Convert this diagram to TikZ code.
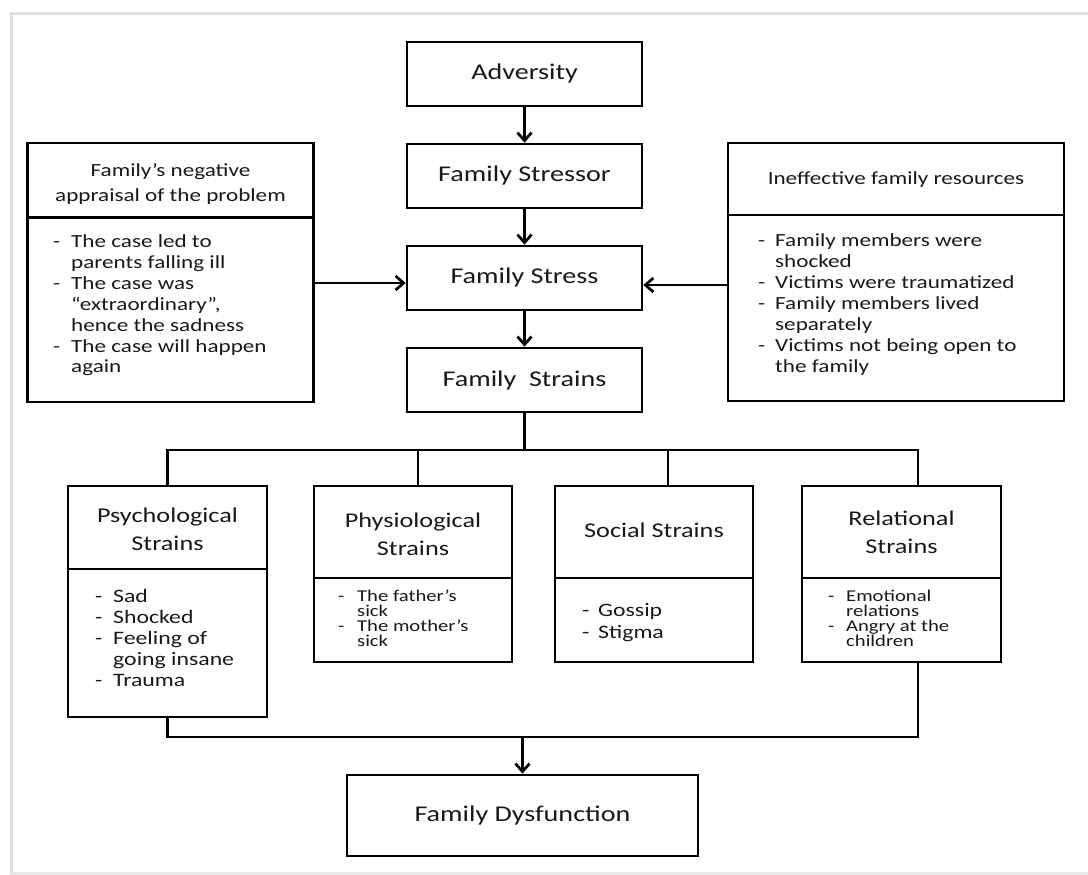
\documentclass[tikz,border=0pt]{standalone}
\usepackage{fontspec}
\setmainfont{Carlito}[FakeStretch=1.25]
\usetikzlibrary{arrows.meta}
\definecolor{txt}{RGB}{25,25,25}
\definecolor{framegray}{RGB}{222,222,222}
\newcommand{\ditem}[2]{\hbox{\makebox[#1][l]{-}#2}}
\newcommand{\dcont}[2]{\hbox{\hspace*{#1}#2}}
\newcommand{\setlf}[2]{\fontsize{#1}{#2}\selectfont\lineskiplimit=-100pt\relax}
\begin{document}
\begin{tikzpicture}[x=1pt,y=-1pt,
  box/.style={draw=black, line width=2.7pt, rectangle, inner sep=0pt},
  mainbox/.style={box, minimum width=235pt, minimum height=64pt, text=txt,
    font=\fontsize{22.5}{27}\selectfont},
  hdr/.style={align=center, text=txt, inner sep=0pt},
  lst/.style={anchor=base west, text=txt, inner sep=0pt},
  conn/.style={line width=2.7pt, draw=black},
  arr/.style={conn, -{Straight Barb[length=8pt,width=14pt]}}]
\useasboundingbox (0,0) rectangle (1088,875);
\fill[white] (0,0) rectangle (1088,875);
% frame
\draw[framegray, line width=3pt] (1088,14) -- (11,14) -- (11,875);
\draw[framegray!70, line width=3pt] (11,873) -- (1088,873);

% main chain
\node[mainbox] (adv) at (524.5,74) {Adversity};
\node[mainbox] (stressor) at (524.5,176) {Family Stressor};
\node[mainbox] (stress) at (524.5,278) {Family Stress};
\node[mainbox] (strains) at (524.5,380) {Family\ \ Strains};
\node[box, minimum width=351pt, minimum height=81pt, text=txt,
  font=\fontsize{22.5}{27}\selectfont] (dys) at (522.5,815.5) {Family Dysfunction};

% side boxes
\node[box, minimum width=286pt, minimum height=259pt] (app) at (170.5,272.5) {};
\draw[conn] (app.west |- 0,217.5) -- (app.east |- 0,217.5);
\node[hdr, font=\fontsize{18.5}{25}\selectfont] (appH) at (170.5,184)
  {Family’s negative\\appraisal of the problem};
\node[lst] (appL) at (53,247) {\vtop{\setlf{18.5}{21}%
  \ditem{18pt}{The case led to}\dcont{18pt}{parents falling ill}%
  \ditem{18pt}{The case was}\dcont{18pt}{“extraordinary”,}%
  \dcont{18pt}{hence the sadness}%
  \ditem{18pt}{The case will happen}\dcont{18pt}{again}}};

\node[box, minimum width=336pt, minimum height=258pt] (res) at (896,272) {};
\draw[conn] (res.west |- 0,215) -- (res.east |- 0,215);
\node[hdr, font=\fontsize{18.5}{25}\selectfont] (resH) at (896,180)
  {Ineffective family resources};
\node[lst] (resL) at (758,246) {\vtop{\setlf{18.5}{21}%
  \ditem{17pt}{Family members were}\dcont{17pt}{shocked}%
  \ditem{17pt}{Victims were traumatized}%
  \ditem{17pt}{Family members lived}\dcont{17pt}{separately}%
  \ditem{17pt}{Victims not being open to}\dcont{17pt}{the family}}};

% strain boxes
\node[box, minimum width=199pt, minimum height=231pt] (psych) at (167.5,601.5) {};
\draw[conn] (psych.west |- 0,569) -- (psych.east |- 0,569);
\node[hdr, font=\fontsize{21}{28}\selectfont] (psychH) at (167.5,529)
  {Psychological\\Strains};
\node[lst] (psychL) at (95,602) {\vtop{\setlf{19}{21}%
  \ditem{18pt}{Sad}\ditem{18pt}{Shocked}%
  \ditem{18pt}{Feeling of}\dcont{18pt}{going insane}%
  \ditem{18pt}{Trauma}}};

\node[box, minimum width=198pt, minimum height=176pt] (physio) at (413,574) {};
\draw[conn] (physio.west |- 0,578) -- (physio.east |- 0,578);
\node[hdr, font=\fontsize{21}{28}\selectfont] (physioH) at (413,534)
  {Physiological\\Strains};
\node[lst] (physioL) at (338,601) {\vtop{\setlf{16.5}{15}%
  \ditem{19pt}{The father’s}\dcont{19pt}{sick}%
  \ditem{19pt}{The mother’s}\dcont{19pt}{sick}}};

\node[box, minimum width=198pt, minimum height=176pt] (social) at (654,574) {};
\draw[conn] (social.west |- 0,578) -- (social.east |- 0,578);
\node[hdr, font=\fontsize{21}{28}\selectfont] (socialH) at (654,530)
  {Social Strains};
\node[lst] (socialL) at (582,616) {\vtop{\setlf{19}{22}%
  \ditem{16pt}{Gossip}\ditem{16pt}{Stigma}}};

\node[box, minimum width=199pt, minimum height=176pt] (rel) at (901.5,574) {};
\draw[conn] (rel.west |- 0,578) -- (rel.east |- 0,578);
\node[hdr, font=\fontsize{21}{28}\selectfont] (relH) at (901.5,532)
  {Relational\\Strains};
\node[lst] (relL) at (828,601) {\vtop{\setlf{16.5}{15}%
  \ditem{18pt}{Emotional}\dcont{18pt}{relations}%
  \ditem{18pt}{Angry at the}\dcont{18pt}{children}}};

% connectors
\draw[arr] (adv) -- (stressor);
\draw[arr] (stressor) -- (stress);
\draw[arr] (stress) -- (strains);
\draw[arr] ([yshift=-5pt]stress.west -| app.east) -- ([yshift=-5pt]stress.west);
\draw[arr] ([yshift=-7pt]stress.east -| res.west) -- ([yshift=-7pt]stress.east);

\coordinate (b1) at (167,450);
\coordinate (b2) at (418,450);
\coordinate (b3) at (668,450);
\coordinate (b4) at (918,450);
\draw[conn] (strains.south) -- (strains.south |- b1);
\draw[conn, line join=miter] (psych.north) -- (psych.north |- b1) -- (b4) -- (b4 |- rel.north);
\draw[conn] (b2) -- (b2 |- physio.north);
\draw[conn] (b3) -- (b3 |- social.north);

\coordinate (c1) at (167,737);
\coordinate (c4) at (918,737);
\draw[conn, line join=miter] (psych.south) -- (psych.south |- c1) -- (c4) -- (c4 |- rel.south);
\draw[arr] (dys.north |- c1) -- (dys.north);
\end{tikzpicture}
\end{document}
